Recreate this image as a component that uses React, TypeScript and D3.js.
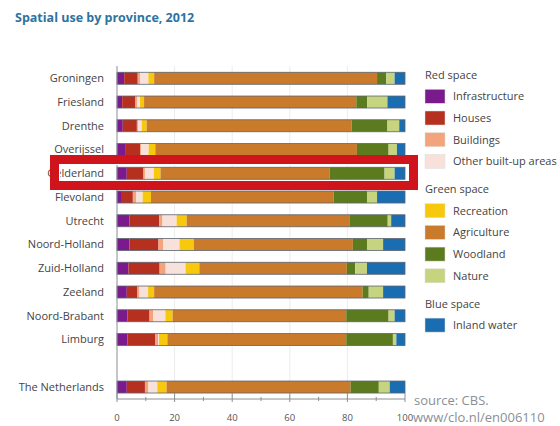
import React from "react";
import * as d3 from "d3";

const provinces = ["Groningen","Friesland","Drenthe","Overijssel","Gelderland","Flevoland","Utrecht","Noord-Holland","Zuid-Holland","Zeeland","Noord-Brabant","Limburg","","The Netherlands"];
const series = ["Infrastructure","Houses","Buildings","Other built-up areas","Recreation","Agriculture","Woodland","Nature","Inland water"];
const seriesColors = ["#7a1a8c","#b5301f","#f3a47c","#f8e1da","#f7c80c","#c97a2a","#5c7a1e","#c6d47f","#1b6db2"];
const groups = [
  { name: "Red space", items: [0,1,2,3] },
  { name: "Green space", items: [4,5,6,7] },
  { name: "Blue space", items: [8] },
];
// values per province, in series order (percent)
const groningen = [2.5,4.7,0.8,2.9,2.0,77.4,3.2,2.9,3.6];
const friesland = [1.8,4.6,0.7,0.9,1.4,73.7,3.8,7.0,6.1];
const drenthe = [2.0,4.9,0.5,1.2,1.7,71.2,12.4,4.1,2.0];
const overijssel = [2.8,5.2,0.4,2.6,2.3,70.0,11.0,2.9,2.8];
const gelderland = [3.4,5.8,0.5,3.1,2.3,58.7,19.1,3.5,3.6];
const flevoland = [1.7,3.8,1.1,2.3,2.9,63.4,11.6,3.5,9.7];
const utrecht = [4.3,10.4,1.1,4.9,3.5,56.5,13.3,1.2,4.8];
const noordHolland = [4.3,10.1,1.7,5.6,5.0,55.2,4.9,5.6,7.6];
const zuidHolland = [4.0,10.8,2.1,6.9,4.8,51.2,2.9,4.1,13.2];
const zeeland = [3.4,3.7,0.7,3.0,2.1,72.4,2.1,5.0,7.6];
const noordBrabant = [3.6,7.7,1.2,4.3,2.5,60.3,14.7,2.1,3.6];
const limburg = [3.6,9.6,1.1,0.3,2.9,62.1,16.2,1.2,3.0];
const netherlands = [3.4,6.3,1.2,3.1,3.2,63.9,9.8,3.8,5.3];
const rows = [groningen,friesland,drenthe,overijssel,gelderland,flevoland,utrecht,noordHolland,zuidHolland,zeeland,noordBrabant,limburg,null,netherlands];
const xTicks = [0,20,40,60,80,100];
const minorTicks = [10,30,50,70,90];

const FONT = "'Open Sans', 'Noto Sans', sans-serif";

export default function App() {
  const x = d3.scaleLinear().domain([0, 100]).range([117, 405]);
  const y = d3.scalePoint<string>().domain(provinces.map((p, i) => p || "gap" + i)).range([66.4, 398.9]).padding(0.5);
  const barH = 12;
  const stack = d3.stack<number[]>().keys(series.map((_, i) => String(i))).value((d, k) => d[+k]);
  const validRows = rows.map((r) => r || series.map(() => 0));
  const stacked = stack(validRows as any);

  const legendX = 425;
  const legendLayout: { type: string; text: string; y: number; idx?: number }[] = [];
  let hy = 75;
  groups.forEach((g) => {
    legendLayout.push({ type: "h", text: g.name, y: hy });
    let sy = hy + 14.3;
    g.items.forEach((it) => {
      legendLayout.push({ type: "i", text: series[it], y: sy, idx: it });
      sy += 21.7;
    });
    hy = sy - 21.7 + 35;
  });

  return (
    <svg width={560} height={426} style={{ position: "absolute", left: 0, top: 0, background: "#fff" }}>
      <text x={15} y={22} fontFamily={FONT} fontWeight="bold" fontSize={12.5} fill="#2d73a0">Spatial use by province, 2012</text>
      {/* faint grid */}
      {xTicks.slice(1, -1).map((t) => (
        <line key={"g" + t} x1={x(t)} x2={x(t)} y1={66} y2={399} stroke="#ececec" strokeWidth={1} />
      ))}
      {/* bars */}
      {provinces.map((p, i) => {
        if (!rows[i]) return null;
        const key = p || "gap" + i;
        const cy = y(key)!;
        return (
          <g key={key}>
            {stacked.map((s, si) => (
              <rect key={si} x={x(s[i][0])} y={cy - barH / 2} width={Math.max(0, x(s[i][1]) - x(s[i][0]))} height={barH} fill={seriesColors[si]} />
            ))}
            <rect x={x(0)} y={cy - barH / 2} width={x(100) - x(0)} height={barH} fill="none" stroke="#5d6470" strokeWidth={0.8} />
            <text x={104} y={cy} dy="0.35em" textAnchor="end" fontFamily={FONT} fontSize={11} fill="#444">{p}</text>
          </g>
        );
      })}
      {/* axes */}
      <line x1={117} x2={117} y1={66} y2={399} stroke="#8a8f96" strokeWidth={1} />
      <line x1={117} x2={405} y1={399} y2={399} stroke="#8a8f96" strokeWidth={1} />
      {xTicks.map((t) => (
        <g key={t}>
          <line x1={x(t)} x2={x(t)} y1={393} y2={402} stroke="#8a8f96" strokeWidth={1} />
          <text x={x(t)} y={421} textAnchor="middle" fontFamily={FONT} fontSize={9.5} fill="#555">{t}</text>
        </g>
      ))}
      {minorTicks.map((t) => (
        <line key={"m" + t} x1={x(t)} x2={x(t)} y1={397} y2={401} stroke="#8a8f96" strokeWidth={1} />
      ))}
      {/* highlight box */}
      <rect x={54.5} y={159.5} width={359} height={26} fill="none" stroke="#d0141c" strokeWidth={9} />
      <rect x={59.5} y={164.5} width={349} height={16} fill="none" stroke="#fff" strokeWidth={1} />
      {/* legend */}
      {legendLayout.map((l, i) =>
        l.type === "h" ? (
          <text key={i} x={legendX} y={l.y} dy="0.35em" fontFamily={FONT} fontSize={11} fill="#444">{l.text}</text>
        ) : (
          <g key={i}>
            <rect x={legendX} y={l.y} width={20} height={14} fill={seriesColors[l.idx!]} stroke="#ddd" strokeWidth={0.5} />
            <text x={453} y={l.y + 7} dy="0.35em" fontFamily={FONT} fontSize={11} fill="#444">{l.text}</text>
          </g>
        )
      )}
      <text x={414} y={405} fontFamily={FONT} fontSize={13} fill="#8a8f96">source: CBS.</text>
      <text x={413} y={422} fontFamily={FONT} fontSize={13} fill="#8a8f96">www/clo.nl/en006110</text>
    </svg>
  );
}
